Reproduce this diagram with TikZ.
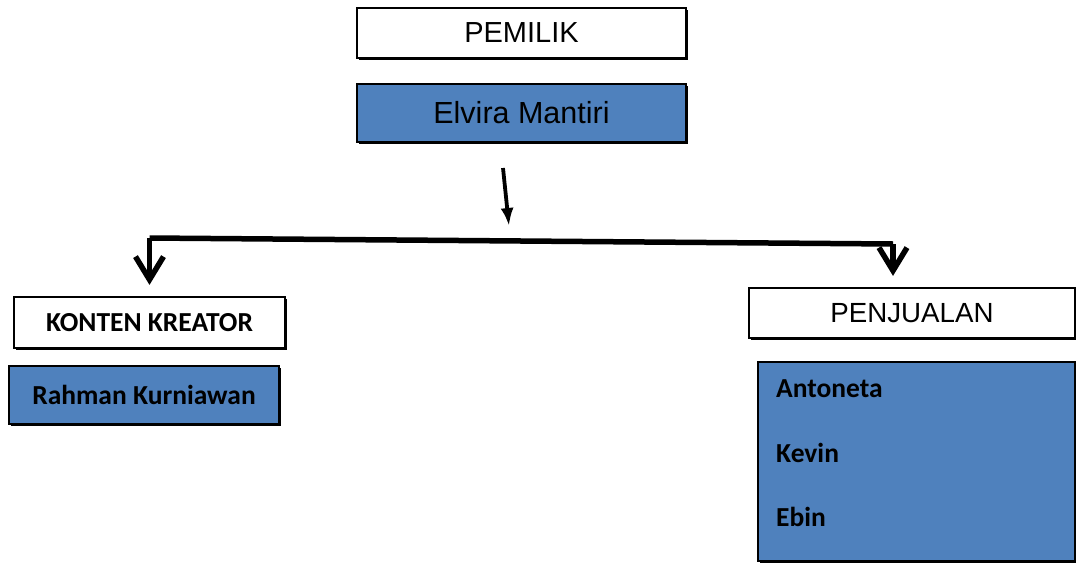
\documentclass[tikz,border=0pt]{standalone}
\usepackage{fontspec}
\newfontfamily\helvfont{Liberation Sans}
\newfontfamily\calfont{Carlito}
\usetikzlibrary{arrows.meta,shadows}
\definecolor{boxblue}{RGB}{79,129,189}

\begin{document}
\begin{tikzpicture}[x=1pt,y=-1pt]
        \tikzset{post/.style = {shape=rectangle,draw,line width=2.2pt,inner sep=0pt,
            drop shadow={shadow xshift=1.6pt,shadow yshift=-1.6pt,opacity=1,fill=black}}}
        \tikzset{head/.style = {post,fill=white,font=\helvfont\fontsize{29}{34}\selectfont}}
        \tikzset{who/.style = {post,fill=boxblue,font=\helvfont\fontsize{30.5}{36}\selectfont}}
        \tikzset{bhead/.style = {post,fill=white,font=\calfont\bfseries\fontsize{27.5}{33}\selectfont}}
        \tikzset{bwho/.style = {post,fill=boxblue,font=\calfont\bfseries\fontsize{27.5}{33}\selectfont}}
        \tikzset{member/.style = {anchor=base west,inner sep=0pt,font=\calfont\bfseries\fontsize{27.5}{33}\selectfont}}
        \tikzset{edge/.style = {-{Latex[length=18pt,width=13pt]},line width=3.8pt}}
        \tikzset{drop/.style = {-{Straight Barb[length=23pt,width=28pt]},line width=5.5pt,shorten >=11pt}}
        \useasboundingbox (0,0) rectangle (1076,563);
        % boxes
        \node[head,minimum width=329pt,minimum height=50pt] (pemilik) at (521.5,33) {PEMILIK};
        \node[who,minimum width=329pt,minimum height=58pt] (elvira) at (521.5,113) {Elvira Mantiri};
        \node[bhead,minimum width=271pt,minimum height=51pt] (kreator) at (149.5,322.5) {KONTEN KREATOR};
        \node[bwho,minimum width=270pt,minimum height=58pt] (rahman) at (144,395) {Rahman Kurniawan\hspace{6pt}};
        \node[head,font=\helvfont\fontsize{27.7}{33}\selectfont,minimum width=326pt,minimum height=50pt] (penjualan) at (912,313) {PENJUALAN};
        \node[post,fill=boxblue,minimum width=317pt,minimum height=199pt] (sales) at (916.5,461.5) {};
        \node[member] (antoneta) at (776,397) {Antoneta};
        \node[member] (kevin) at (776,462) {Kevin};
        \node[member] (ebin) at (776,526) {Ebin};
        % connectors
        \coordinate (t0) at (503,168);
        \coordinate (t1) at (509,226);
        \coordinate (lft) at (149.5,238);
        \coordinate (rgt) at (893,244);
        \draw[edge] (t0) -- (t1);
        \draw[line width=5.5pt] (lft) -- (rgt);
        \draw[drop] (lft) -- (kreator.north);
        \draw[drop] (rgt) -- (rgt |- penjualan.north);
        
    \end{tikzpicture}
\end{document}
